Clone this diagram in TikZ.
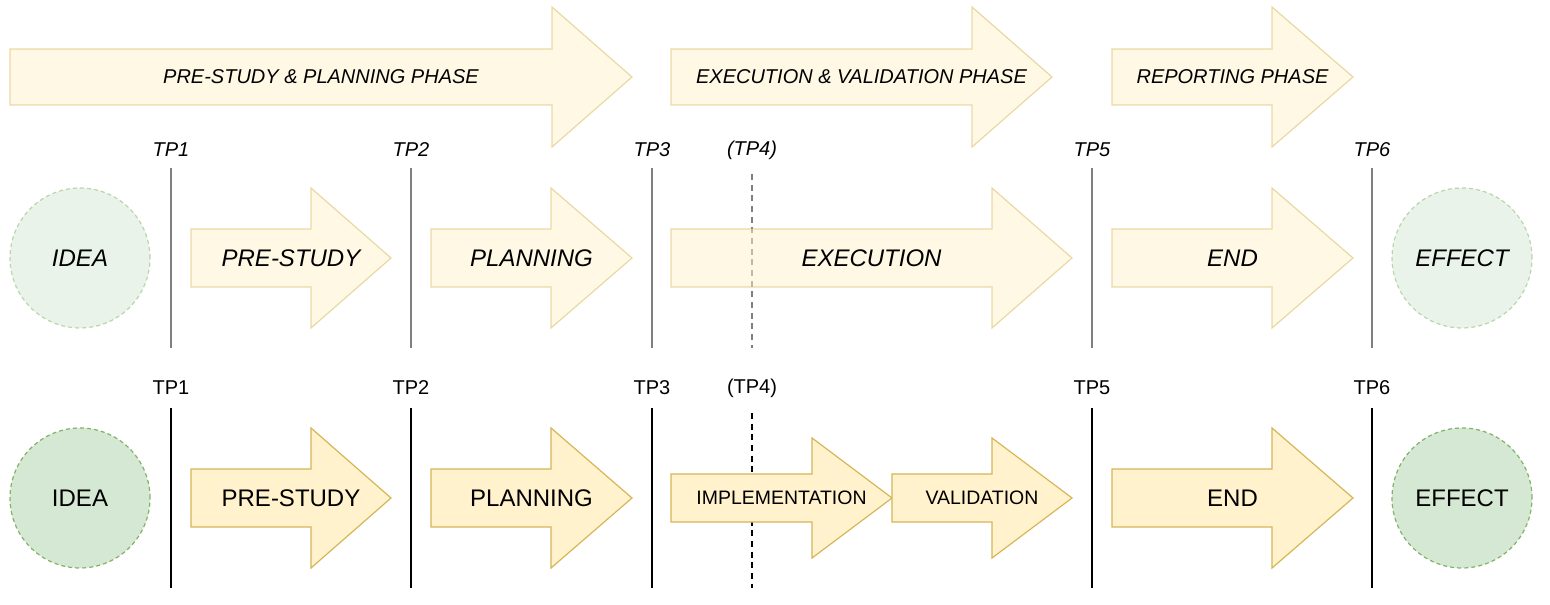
\documentclass[tikz,border=0pt]{standalone}
\usepackage{fontspec}
\setmainfont{Liberation Sans}
\definecolor{afill}{HTML}{FFF2CC}
\definecolor{astroke}{HTML}{D6B656}
\definecolor{cfill}{HTML}{D5E8D4}
\definecolor{cstroke}{HTML}{82B366}
% #1 style, #2 left, #3 head start, #4 tip, #5 centre y, #6 body half height, #7 head half height
\newcommand{\blockarrow}[7]{%
  \draw[#1] (#2,#5-#6) -- (#3,#5-#6) -- (#3,#5-#7) -- (#4,#5) -- (#3,#5+#7) -- (#3,#5+#6) -- (#2,#5+#6) -- cycle;}
\tikzset{
  arw/.style={fill=afill, draw=astroke, line width=0.9pt, line join=miter},
  arwf/.style={arw, fill opacity=0.5, draw opacity=0.5},
  circ/.style={circle, minimum size=105pt, inner sep=0pt, draw=cstroke, fill=cfill,
    line width=0.9pt, dash pattern=on 3pt off 2.3pt, text opacity=1,
    font=\fontsize{18pt}{21pt}\selectfont},
  circf/.style={circ, fill opacity=0.5, draw opacity=0.5, font=\fontsize{18pt}{21pt}\selectfont\itshape},
  big/.style={inner sep=0pt, font=\fontsize{18pt}{21pt}\selectfont},
  bigi/.style={inner sep=0pt, font=\fontsize{18pt}{21pt}\selectfont\itshape},
  mid/.style={inner sep=0pt, font=\fontsize{14.6pt}{17pt}\selectfont},
  phase/.style={inner sep=0pt, font=\fontsize{15pt}{18pt}\selectfont\itshape},
  tp/.style={inner sep=0pt, font=\fontsize{15pt}{18pt}\selectfont},
  tpi/.style={tp, font=\fontsize{15pt}{18pt}\selectfont\itshape},
  tline/.style={line width=0.9pt, draw=black},
  tlinef/.style={tline, draw opacity=0.5},
  tdash/.style={tline, dash pattern=on 4.5pt off 3.5pt},
  tdashf/.style={tdash, draw opacity=0.5},
}
\begin{document}
\begin{tikzpicture}[x=0.75pt, y=-0.75pt]
\useasboundingbox (0,0) rectangle (1550,605);

% ---------- top phase arrows ----------
\blockarrow{arwf}{10}{552}{632}{77}{28}{70}
\node[phase] (ph1) at (321,77) {PRE-STUDY \& PLANNING PHASE};
\blockarrow{arwf}{671}{972}{1052}{77}{28}{70}
\node[phase] (ph2) at (861.5,77) {EXECUTION \& VALIDATION PHASE};
\blockarrow{arwf}{1112}{1272}{1353}{77}{28}{70}
\node[phase] (ph3) at (1232.5,77) {REPORTING PHASE};

% ---------- middle row (faded, italic) ----------
\node[tpi] (m1) at (171,150) {TP1};
\node[tpi] (m2) at (411,150) {TP2};
\node[tpi] (m3) at (652,150) {TP3};
\node[tpi] (m4) at (752,150) {(TP4)};
\node[tpi] (m5) at (1092,150) {TP5};
\node[tpi] (m6) at (1372,150) {TP6};
\coordinate (m1a) at (171,168); \coordinate (m1b) at (171,348);
\coordinate (m2a) at (411,168); \coordinate (m2b) at (411,348);
\coordinate (m3a) at (652,168); \coordinate (m3b) at (652,348);
\coordinate (m4a) at (752,174); \coordinate (m4b) at (752,348);
\coordinate (m5a) at (1092,168); \coordinate (m5b) at (1092,348);
\coordinate (m6a) at (1372,168); \coordinate (m6b) at (1372,348);
\draw[tlinef] (m1a) -- (m1b);
\draw[tlinef] (m2a) -- (m2b);
\draw[tlinef] (m3a) -- (m3b);
\draw[tdashf] (m4a) -- (m4b);
\draw[tlinef] (m5a) -- (m5b);
\draw[tlinef] (m6a) -- (m6b);

\node[circf] (midea) at (80,258) {IDEA};
\blockarrow{arwf}{191}{311}{391}{258}{29}{70}
\node[bigi] (mpre) at (291,258) {PRE-STUDY};
\blockarrow{arwf}{431}{551}{632}{258}{29}{70}
\node[bigi] (mplan) at (531.5,258) {PLANNING};
\blockarrow{arwf}{671}{992}{1072}{258}{29}{70}
\node[bigi] (mexec) at (871.5,258) {EXECUTION};
\blockarrow{arwf}{1112}{1272}{1353}{258}{29}{70}
\node[bigi] (mend) at (1232.5,258) {END};
\node[circf] (meff) at (1462,258) {EFFECT};

% ---------- bottom row ----------
\node[tp] (b1) at (171,388) {TP1};
\node[tp] (b2) at (411,388) {TP2};
\node[tp] (b3) at (652,388) {TP3};
\node[tp] (b4) at (752,388) {(TP4)};
\node[tp] (b5) at (1092,388) {TP5};
\node[tp] (b6) at (1372,388) {TP6};
\coordinate (b1a) at (171,408); \coordinate (b1b) at (171,588);
\coordinate (b2a) at (411,408); \coordinate (b2b) at (411,588);
\coordinate (b3a) at (652,408); \coordinate (b3b) at (652,588);
\coordinate (b4a) at (752,413); \coordinate (b4b) at (752,588);
\coordinate (b5a) at (1092,408); \coordinate (b5b) at (1092,588);
\coordinate (b6a) at (1372,408); \coordinate (b6b) at (1372,588);
\draw[tline] (b1a) -- (b1b);
\draw[tline] (b2a) -- (b2b);
\draw[tline] (b3a) -- (b3b);
\draw[tdash] (b4a) -- (b4b);
\draw[tline] (b5a) -- (b5b);
\draw[tline] (b6a) -- (b6b);

\node[circ] (bidea) at (80,498) {IDEA};
\blockarrow{arw}{191}{311}{391}{498}{29}{70}
\node[big] (bpre) at (291,498) {PRE-STUDY};
\blockarrow{arw}{431}{551}{632}{498}{29}{70}
\node[big] (bplan) at (531.5,498) {PLANNING};
\blockarrow{arw}{671}{812}{892}{498}{24}{60}
\node[mid] (bimpl) at (781.5,498) {IMPLEMENTATION};
\blockarrow{arw}{892}{992}{1072}{498}{24}{60}
\node[mid] (bval) at (982,498) {VALIDATION};
\blockarrow{arw}{1112}{1272}{1353}{498}{29}{70}
\node[big] (bend) at (1232.5,498) {END};
\node[circ] (beff) at (1462,498) {EFFECT};
\end{tikzpicture}
\end{document}
